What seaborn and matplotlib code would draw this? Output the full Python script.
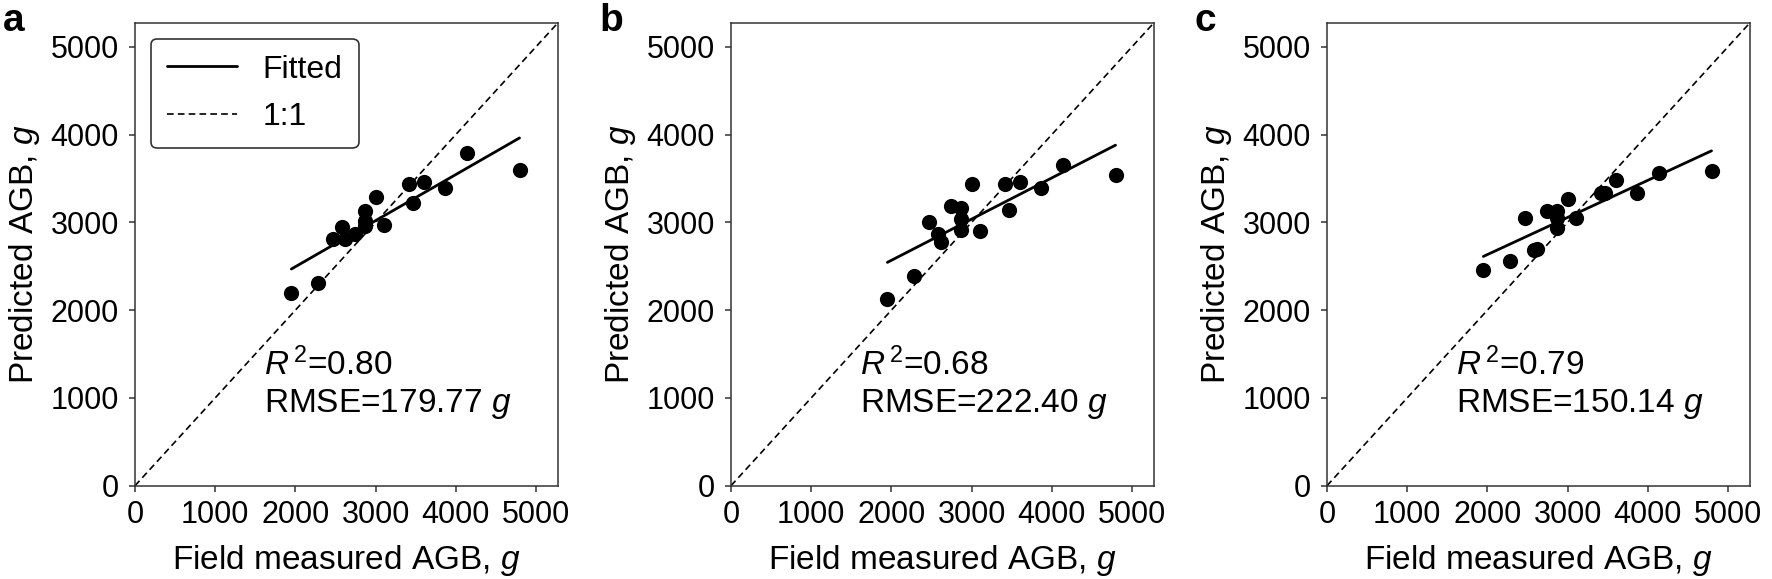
import numpy as np
import pandas as pd
import matplotlib
matplotlib.use('Agg')
import matplotlib.pyplot as plt
import seaborn as sns

# 实测地上生物量 (三个子图共用)
field_agb = [1950, 2285, 2475, 2585, 2625, 2740, 2865, 2865, 2865,
             3005, 3105, 3415, 3468, 3610, 3860, 4145, 4795]

# 三个模型的预测值
pred_a = [2200, 2305, 2810, 2950, 2810, 2865, 3125, 3020, 2960,
          3290, 2970, 3440, 3225, 3465, 3390, 3785, 3598]
pred_b = [2125, 2385, 3005, 2865, 2780, 3190, 3160, 3035, 2910,
          3440, 2900, 3440, 3140, 3460, 3390, 3650, 3535]
pred_c = [2455, 2565, 3055, 2685, 2700, 3130, 3130, 3050, 2940,
          3265, 3045, 3330, 3335, 3485, 3330, 3565, 3590]

panel_letters = ['a', 'b', 'c']
r2_values = ['0.80', '0.68', '0.79']
rmse_values = ['179.77', '222.40', '150.14']
axis_ticks = [0, 1000, 2000, 3000, 4000, 5000]
axis_max = 5275

sns.set_style('ticks')
plt.rcParams['font.family'] = ['Liberation Sans', 'DejaVu Sans']
plt.rcParams['mathtext.fontset'] = 'custom'
plt.rcParams['mathtext.rm'] = 'Liberation Sans'
plt.rcParams['mathtext.it'] = 'Liberation Sans:italic'
plt.rcParams['axes.edgecolor'] = '#333333'
plt.rcParams['axes.linewidth'] = 1.1
plt.rcParams['text.color'] = 'black'
plt.rcParams['axes.labelcolor'] = 'black'
plt.rcParams['xtick.color'] = 'black'
plt.rcParams['ytick.color'] = 'black'

W, H = 1772, 579
fig = plt.figure(figsize=(W / 100, H / 100), dpi=100)

ax_lefts = [135, 731, 1327]
ax_w, ax_h = 423, 463
ax_bottom = H - 485.7

df = pd.DataFrame({'field': field_agb})
for i, pred in enumerate([pred_a, pred_b, pred_c]):
    df['pred'] = pred
    ax = fig.add_axes([ax_lefts[i] / W, ax_bottom / H, ax_w / W, ax_h / H])

    # 1:1 线 和 拟合线
    ax.axline((0, 0), slope=1, color='black', lw=1.2, ls=(0, (4, 2.5)),
              label='1:1' if i == 0 else None)
    sns.regplot(data=df, x='field', y='pred', ax=ax, ci=None, scatter=False,
                truncate=True, line_kws={'color': 'black', 'lw': 2.0},
                label='Fitted' if i == 0 else None)
    sns.scatterplot(data=df, x='field', y='pred', ax=ax, color='black',
                    s=120, linewidth=0, zorder=3, legend=False)

    ax.set_xlim(0, axis_max)
    ax.set_ylim(0, axis_max)
    ax.set_xticks(axis_ticks)
    ax.set_yticks(axis_ticks)
    ax.tick_params(labelsize=22, width=1.1, color='#333333', labelcolor='black')
    ax.tick_params(axis='x', length=4, pad=6)
    ax.tick_params(axis='y', length=4.5, pad=7)
    ax.set_xlabel('Field measured AGB, $g$', fontsize=24, labelpad=10)
    ax.set_ylabel('Predicted AGB, $g$', fontsize=24, labelpad=6)

    ax.text(0.305, 0.239, r'$R^{\,2}$=' + r2_values[i], transform=ax.transAxes,
            fontsize=24, va='baseline', ha='left')
    ax.text(0.305, 0.16, 'RMSE=' + rmse_values[i] + ' $g$', transform=ax.transAxes,
            fontsize=24, va='baseline', ha='left')

    if ax.get_legend() is not None:
        ax.get_legend().remove()
    if i == 0:
        handles, labels = ax.get_legend_handles_labels()
        order = [labels.index('Fitted'), labels.index('1:1')]
        leg = ax.legend([handles[j] for j in order], [labels[j] for j in order],
                        loc='upper left', fontsize=23, frameon=True, fancybox=True,
                        handlelength=2.2, handletextpad=0.8, borderaxespad=0.5,
                        borderpad=0.5, labelspacing=0.55)
        leg.get_frame().set_edgecolor('#333333')
        leg.get_frame().set_linewidth(1.2)
        leg.get_frame().set_alpha(1)

    fig.text((ax_lefts[i] - 132) / W, 1 - 3 / H, panel_letters[i], fontsize=28,
             fontweight='bold', va='top', ha='left')

fig.savefig('out.png', dpi=100)
